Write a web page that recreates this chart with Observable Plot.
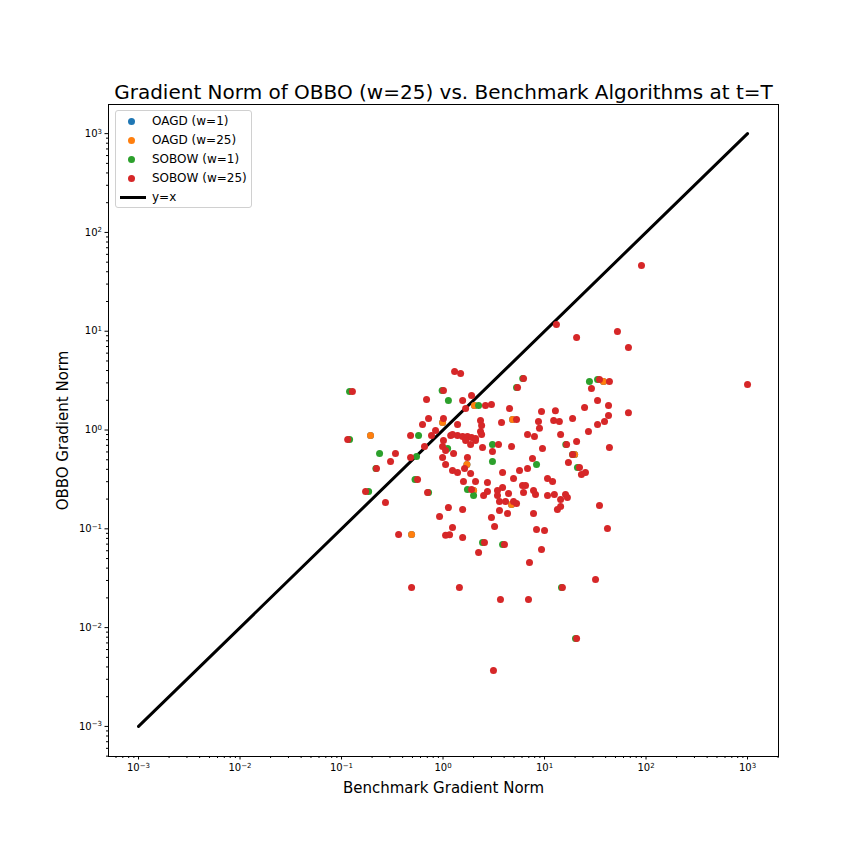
<!DOCTYPE html>
<html><head><meta charset="utf-8">
<script src="https://cdn.jsdelivr.net/npm/d3@7"></script>
<script src="https://cdn.jsdelivr.net/npm/@observablehq/plot@0.6"></script>
<style>
body{margin:0;background:#fff;font-family:"DejaVu Sans",sans-serif;}
#wrap{position:relative;width:864px;height:864px;}
#legend{position:absolute;left:115px;top:110px;width:137px;height:98px;box-sizing:border-box;border:1px solid #d0d0d0;border-radius:3px;background:rgba(255,255,255,0.85);font-size:12px;color:#000;}
.row{position:absolute;left:0;width:135px;height:19px;}
.mk{position:absolute;left:12px;top:6px;width:7px;height:7px;border-radius:50%;}
.ln{position:absolute;left:4px;top:8px;width:26px;height:3px;background:#000;}
.tx{position:absolute;left:36px;top:1px;line-height:16px;white-space:nowrap;}
</style></head>
<body><div id="wrap"><div id="chart"></div><div id="legend"></div></div>
<script>
const seriesNames = ["OAGD (w=1)", "OAGD (w=25)", "SOBOW (w=1)", "SOBOW (w=25)"];
const seriesColors = ["#1f77b4", "#ff7f0e", "#2ca02c", "#d62728"];
const lineLabel = "y=x";
const titleText = "Gradient Norm of OBBO (w=25) vs. Benchmark Algorithms at t=T";
const xLabel = "Benchmark Gradient Norm";
const yLabel = "OBBO Gradient Norm";
const majorTicks = [1e-3, 1e-2, 1e-1, 1, 10, 100, 1000];

// OAGD (w=1) — hidden beneath later series
const oagd1X = [0.193, 0.49, 0.99, 2.04, 4.84, 1.72, 4.73, 38.1, 19.8, 2.0];
const oagd1Y = [0.88, 0.0876, 1.19, 1.77, 1.28, 0.448, 0.176, 3.10, 0.565, 0.244];
// OAGD (w=25)
const oagd25X = [0.193, 0.49, 0.99, 2.04, 4.84, 1.72, 4.73, 38.1, 19.8, 2.0];
const oagd25Y = [0.88, 0.0876, 1.19, 1.77, 1.28, 0.448, 0.176, 3.10, 0.565, 0.244];
// SOBOW (w=1)
const sobow1X = [0.12, 0.12, 1.13, 0.237, 0.574, 0.548, 1.11, 0.218, 0.185, 0.53, 0.72, 0.98, 2.24, 3.07, 3.07, 8.34, 1.74, 2.0, 21.1, 27.7, 33.3, 6.1, 5.3, 2.45, 14.7, 20.2, 16.2, 18.9, 3.86];
const sobow1Y = [2.45, 0.80, 1.99, 0.578, 0.88, 0.539, 0.65, 0.408, 0.239, 0.315, 0.233, 2.51, 1.77, 0.713, 0.48, 0.448, 0.25, 0.217, 0.417, 3.10, 3.24, 3.32, 2.69, 0.0727, 0.0255, 0.00776, 0.713, 0.565, 0.0694];
// SOBOW (w=25)
const sobow25X = [0.128, 0.115, 0.688, 1.01, 1.30, 1.49, 0.72, 0.628, 1.01, 0.844, 0.77, 0.479, 1.19, 1.01, 0.657, 0.99, 1.06, 0.99, 1.27, 0.34, 0.304, 0.479, 1.06, 0.221, 1.24, 0.561, 0.1725, 0.704, 0.271, 1.13, 0.924, 1.24, 1.06, 1.16, 0.365,
  6.21, 5.42, 1.91, 1.56, 2.62, 3.0, 1.67, 4.52, 9.34, 12.8, 3.77, 5.30, 8.72, 12.3, 14.0, 18.9, 1.39, 2.34, 2.40, 2.34, 8.92, 6.80, 7.96, 14.4, 1.24, 1.39, 1.56, 1.74, 1.91, 2.09, 1.67, 1.87, 2.09, 2.40, 3.52, 4.73, 2.45, 3.07, 9.55, 16.5, 18.9, 1.74, 7.61, 17.2,
  1.39, 1.63, 1.87, 3.86, 5.67, 6.80, 1.59, 2.09, 2.74, 4.95, 10.7, 12.0, 1.91, 2.51, 2.74, 3.44, 3.86, 3.44, 4.42, 6.07, 6.50, 6.21, 7.79, 8.15, 10.7, 12.5, 16.1, 16.8, 14.4, 3.60, 4.13, 4.95, 5.30, 14.4, 13.4, 3.60, 4.32, 7.79, 1.56, 3.0, 3.22, 8.34, 10.0, 1.56, 2.56, 4.03, 9.34, 2.24, 7.11,
  34.8, 43.6, 29.0, 33.3, 42.7, 24.8, 67.1, 42.7, 39.0, 33.3, 27.1, 20.7, 43.6, 22.1, 25.3, 23.1, 34.8, 41.7, 0.49, 1.45, 15.0, 31.8, 3.68, 6.95, 20.7, 3.14, 1000, 90.2, 52.3, 20.7, 13.1, 67.1];
const sobow25Y = [2.45, 0.80, 2.04, 2.51, 3.91, 3.73, 1.31, 1.14, 1.31, 0.99, 0.88, 0.88, 0.88, 0.783, 0.681, 0.681, 0.62, 0.527, 0.578, 0.578, 0.48, 0.527, 0.448, 0.408, 0.389, 0.315, 0.239, 0.233, 0.185, 0.164, 0.133, 0.103, 0.086, 0.087, 0.0876,
  3.32, 2.69, 2.23, 1.99, 1.77, 1.81, 1.65, 1.65, 1.54, 1.57, 1.19, 1.28, 1.22, 1.25, 1.22, 1.31, 1.14, 1.25, 1.11, 0.966, 1.04, 0.90, 0.86, 0.90, 0.90, 0.88, 0.86, 0.86, 0.84, 0.82, 0.783, 0.713, 0.783, 0.90, 0.713, 0.681, 0.665, 0.606, 0.65, 0.713, 0.565, 0.527, 0.515, 0.469,
  0.372, 0.408, 0.363, 0.372, 0.389, 0.408, 0.301, 0.301, 0.294, 0.323, 0.323, 0.301, 0.25, 0.217, 0.239, 0.244, 0.262, 0.217, 0.228, 0.274, 0.274, 0.233, 0.244, 0.222, 0.217, 0.222, 0.222, 0.207, 0.198, 0.189, 0.189, 0.189, 0.180, 0.168, 0.157, 0.153, 0.143, 0.143, 0.157, 0.130, 0.1055, 0.0984, 0.096, 0.0817, 0.0727, 0.0694, 0.0618, 0.0576, 0.0456,
  3.24, 3.10, 2.63, 1.99, 1.77, 1.69, 1.50, 1.40, 1.22, 1.14, 0.966, 0.765, 0.665, 0.417, 0.372, 0.355, 0.172, 0.101, 0.0255, 0.0255, 0.0255, 0.0307, 0.0193, 0.0193, 0.00776, 0.00368, 2.89, 46.2, 9.93, 8.63, 11.7, 6.84];

const refX = [0.001, 1000];
const refY = [0.001, 1000];

const xs = [oagd1X, oagd25X, sobow1X, sobow25X];
const ys = [oagd1Y, oagd25Y, sobow1Y, sobow25Y];
const points = [];
seriesNames.forEach((s, i) => xs[i].forEach((x, j) => points.push({s, x, y: ys[i][j]})));
const refLine = refX.map((x, i) => ({x, y: refY[i]}));

const xDomain = [5.06e-4, 2019];
const yDomain = [4.96e-4, 1972];
function minorTicks(dom) {
  const out = [];
  for (let k = -4; k <= 3; k++) for (let m = 2; m <= 9; m++) {
    const v = m * Math.pow(10, k);
    if (v >= dom[0] && v <= dom[1]) out.push(v);
  }
  return out;
}
const fmt = d => "10^" + Math.round(Math.log10(d));

const chart = Plot.plot({
  width: 864, height: 864,
  marginLeft: 108, marginRight: 86, marginTop: 104, marginBottom: 108,
  style: {fontFamily: "DejaVu Sans", fontSize: "10px", background: "white", color: "black"},
  x: {type: "log", domain: xDomain},
  y: {type: "log", domain: yDomain},
  color: {domain: seriesNames, range: seriesColors},
  marks: [
    Plot.axisX(minorTicks(xDomain), {anchor: "bottom", tickSize: 2, tickFormat: () => "", label: null}),
    Plot.axisY(minorTicks(yDomain), {anchor: "left", tickSize: 2, tickFormat: () => "", label: null}),
    Plot.axisX(majorTicks, {anchor: "bottom", tickSize: 3.5, tickPadding: 4, tickFormat: fmt, fontSize: 10, label: null}),
    Plot.axisY(majorTicks, {anchor: "left", tickSize: 3.5, tickPadding: 3, tickFormat: fmt, fontSize: 10, label: null}),
    Plot.line(refLine, {x: "x", y: "y", stroke: "black", strokeWidth: 3}),
    Plot.dot(points, {x: "x", y: "y", fill: "s", r: 3.5, stroke: null}),
    Plot.frame({stroke: "black", strokeWidth: 1}),
    Plot.text([titleText], {text: d => d, frameAnchor: "top", lineAnchor: "middle", dy: -12, fontSize: 20, fill: "black"}),
    Plot.text([xLabel], {text: d => d, frameAnchor: "bottom", lineAnchor: "middle", dy: 32, fontSize: 15, fill: "black"}),
    Plot.text([yLabel], {text: d => d, frameAnchor: "left", lineAnchor: "middle", textAnchor: "middle", dx: -45, rotate: -90, fontSize: 15, fill: "black"})
  ]
});
// render exponents as real superscripts
d3.select(chart).selectAll("text").each(function() {
  const t = this.textContent;
  const m = /^10\^(-?\d+)$/.exec(t);
  if (!m) return;
  const sel = d3.select(this);
  sel.text(null);
  sel.append("tspan").text("10");
  sel.append("tspan").attr("dy", "-0.45em").attr("font-size", "7px").text(m[1].replace("-", "\u2212"));
});
document.getElementById("chart").appendChild(chart);

const legend = document.getElementById("legend");
const tops = [1, 20, 39, 58, 77];
seriesNames.forEach((s, i) => {
  const row = document.createElement("div");
  row.className = "row"; row.style.top = tops[i] + "px";
  row.innerHTML = `<div class="mk" style="background:${seriesColors[i]}"></div><div class="tx">${s}</div>`;
  legend.appendChild(row);
});
const row = document.createElement("div");
row.className = "row"; row.style.top = tops[4] + "px";
row.innerHTML = `<div class="ln"></div><div class="tx">${lineLabel}</div>`;
legend.appendChild(row);
</script></body></html>
